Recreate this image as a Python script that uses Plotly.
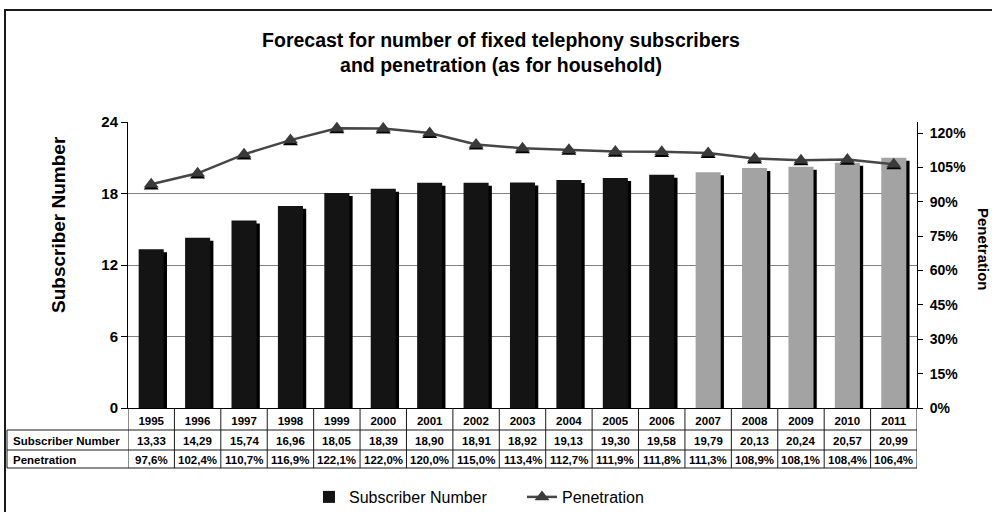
import plotly.graph_objects as go

years = [str(y) for y in range(1995, 2012)]
subscribers = [13.33, 14.29, 15.74, 16.96, 18.05, 18.39, 18.90, 18.91, 18.92,
               19.13, 19.30, 19.58, 19.79, 20.13, 20.24, 20.57, 20.99]
penetration = [97.6, 102.4, 110.7, 116.9, 122.1, 122.0, 120.0, 115.0, 113.4,
               112.7, 111.9, 111.8, 111.3, 108.9, 108.1, 108.4, 106.4]
forecast_from = "2007"
left_ticks = [0, 6, 12, 18, 24]
right_ticks = [0, 15, 30, 45, 60, 75, 90, 105, 120]

W, H = 992, 512
L, R, T, B = 128, 75, 122, 104
PW, PH = W - L - R, H - T - B
FONT = "Liberation Sans, Arial, sans-serif"


def px_x(p):
    return (p - L) / PW


def px_y(p):
    return (H - B - p) / PH


bar_colors = ["#a3a3a3" if y >= forecast_from else "#141414" for y in years]
bw = 0.54

fig = go.Figure()
# bar shadows
fig.add_trace(go.Bar(x=years, y=[v - 0.25 for v in subscribers], width=bw,
                     offset=-bw / 2 + 0.07, marker=dict(color="#000000", line=dict(width=0)),
                     showlegend=False, hoverinfo="skip"))
fig.add_trace(go.Bar(x=years, y=subscribers, width=bw, offset=-bw / 2,
                     marker=dict(color=bar_colors, line=dict(width=0)),
                     name="Subscriber Number"))
# marker shadows
fig.add_trace(go.Scatter(x=years, y=[v - 0.8 for v in penetration], yaxis="y2", mode="markers",
                         marker=dict(symbol="triangle-up", size=13, color="#000000"),
                         showlegend=False, hoverinfo="skip"))
fig.add_trace(go.Scatter(x=years, y=penetration, yaxis="y2", mode="lines+markers",
                         line=dict(color="#464646", width=2.5),
                         marker=dict(symbol="triangle-up", size=13, color="#3a3a3a"),
                         name="Penetration"))

shapes = []
# outer border
shapes.append(dict(type="rect", xref="paper", yref="paper", x0=px_x(5), x1=px_x(1100),
                   y0=px_y(600), y1=px_y(10), line=dict(color="#1a1a1a", width=2)))
# table lines
tl = "#1a1a1a"
for yy in [430, 450, 468]:
    shapes.append(dict(type="line", xref="paper", yref="paper", x0=px_x(7), x1=1,
                       y0=px_y(yy), y1=px_y(yy), line=dict(color=tl, width=1)))
shapes.append(dict(type="line", xref="paper", yref="paper", x0=px_x(7), x1=px_x(7),
                   y0=px_y(430), y1=px_y(468), line=dict(color=tl, width=1)))
for k in range(len(years) + 1):
    shapes.append(dict(type="line", xref="x", yref="paper", x0=k - 0.5, x1=k - 0.5,
                       y0=0, y1=px_y(468), line=dict(color=tl, width=1)))

annotations = []
tfont = dict(family=FONT, size=11.5, color="#000000", weight="bold")
for i, y in enumerate(years):
    annotations.append(dict(x=i, xref="x", y=px_y(441), yref="paper", showarrow=False,
                            text=f"{subscribers[i]:.2f}".replace(".", ","),
                            font=tfont, xanchor="center", yanchor="middle"))
    annotations.append(dict(x=i, xref="x", y=px_y(460), yref="paper", showarrow=False,
                            text=f"{penetration[i]:.1f}".replace(".", ",") + "%",
                            font=tfont, xanchor="center", yanchor="middle"))
annotations.append(dict(x=px_x(11), xref="paper", y=px_y(441), yref="paper", showarrow=False,
                        text="Subscriber Number", font=tfont, xanchor="left", yanchor="middle"))
annotations.append(dict(x=px_x(11), xref="paper", y=px_y(460), yref="paper", showarrow=False,
                        text="Penetration", font=tfont, xanchor="left", yanchor="middle"))
# axis titles
annotations.append(dict(x=px_x(58), xref="paper", y=px_y(225), yref="paper", showarrow=False,
                        text="Subscriber Number", textangle=-90,
                        font=dict(family=FONT, size=19, color="#000000", weight="bold"),
                        xanchor="center", yanchor="middle"))
annotations.append(dict(x=px_x(984), xref="paper", y=px_y(249), yref="paper", showarrow=False,
                        text="Penetration", textangle=90,
                        font=dict(family=FONT, size=15, color="#000000", weight="bold"),
                        xanchor="center", yanchor="middle"))

fig.update_layout(
    width=W, height=H,
    margin=dict(l=L, r=R, t=T, b=B),
    paper_bgcolor="#ffffff", plot_bgcolor="#ffffff",
    barmode="overlay",
    title=dict(text="Forecast for number of fixed telephony subscribers<br>and penetration (as for household)",
               x=501 / W, xanchor="center", xref="container",
               y=1 - 47 / H, yanchor="top", yref="container",
               font=dict(family=FONT, size=19.5, color="#000000", weight="bold")),
    xaxis=dict(type="category", categoryorder="array", categoryarray=years,
               range=[-0.5, len(years) - 0.5], showgrid=False,
               tickmode="array", tickvals=years, ticktext=["<b>%s</b>" % y for y in years],
               showline=True, linecolor="#000000", linewidth=1, ticks="",
               tickfont=dict(family=FONT, size=11.5, color="#000000"),
               ticklabelstandoff=2),
    yaxis=dict(range=[0, 24], tickmode="array", tickvals=left_ticks,
               ticktext=["<b>%d</b>" % v for v in left_ticks],
               showgrid=True, gridcolor="#808080",
               gridwidth=1, showline=True, linecolor="#000000", linewidth=1,
               ticks="outside", ticklen=6, tickcolor="#000000", zeroline=False,
               tickfont=dict(family=FONT, size=15, color="#000000")),
    yaxis2=dict(range=[0, 124.8], tickmode="array", tickvals=right_ticks,
                ticktext=["<b>%d%%</b>" % v for v in right_ticks],
                overlaying="y", side="right",
                showgrid=False, showline=True, linecolor="#000000", linewidth=1,
                ticks="outside", ticklen=5, tickcolor="#000000", zeroline=False,
                ticklabelstandoff=4,
                tickfont=dict(family=FONT, size=14, color="#000000")),
    legend=dict(orientation="h", xref="container", yref="container",
                x=309 / W, xanchor="left", y=1 - 497 / H, yanchor="middle",
                font=dict(family=FONT, size=16, color="#000000"),
                entrywidth=168, bgcolor="rgba(0,0,0,0)", traceorder="normal"),
    shapes=shapes, annotations=annotations,
)

fig.write_html("out.html")
